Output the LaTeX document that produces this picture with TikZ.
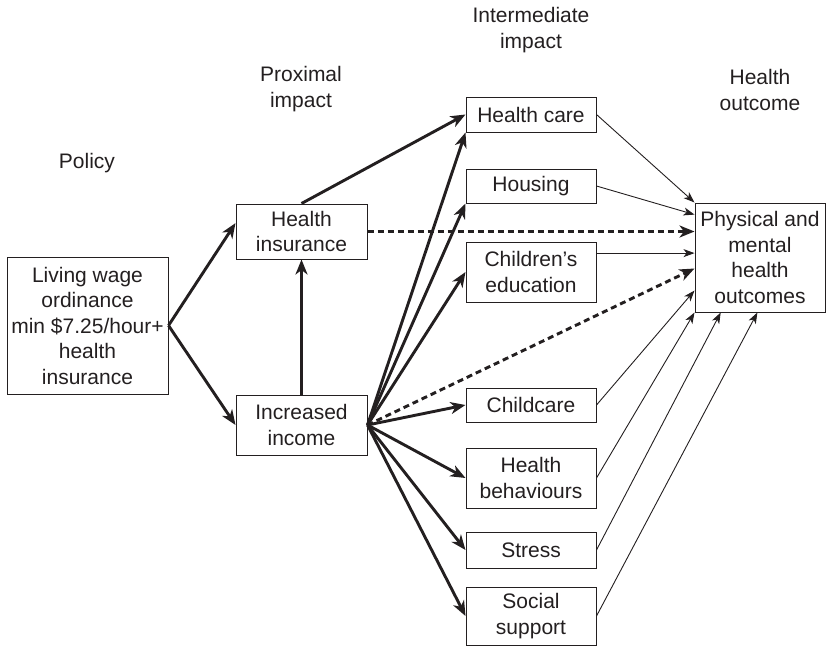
\documentclass[tikz,border=0pt]{standalone}
\usepackage{fontspec}
\setmainfont{Liberation Sans}
\usetikzlibrary{arrows.meta,calc}
\definecolor{ink}{RGB}{35,31,32}
\begin{document}
\begin{tikzpicture}[x=1pt,y=-1pt,
  every node/.style={text=ink,font=\fontsize{21}{25.5}\selectfont},
  box/.style={draw=ink,line width=1pt,inner sep=0pt,align=center,minimum width=130pt},
  lbl/.style={align=center,inner sep=0pt},
  thick arrow/.style={draw=ink,line width=2.9pt,-{Stealth[length=15pt,width=12pt,inset=4.5pt]}},
  dash arrow/.style={draw=ink,line width=2.9pt,dash pattern=on 6pt off 4pt,-{Stealth[length=15pt,width=12pt,inset=4.5pt]}},
  thin arrow/.style={draw=ink,line width=0.9pt,-{Stealth[length=11pt,width=8pt,inset=3pt]}}]
\useasboundingbox (0,0) rectangle (826,646);
% labels
\node[lbl] (policy) at (87,163) {Policy};
\node[lbl] (prox) at (301,89) {Proximal\\impact};
\node[lbl] (inter) at (531,30) {Intermediate\\impact};
\node[lbl] (hout) at (760,90) {Health\\outcome};
% boxes
\node[box,minimum width=161pt,minimum height=137pt] (lw) at (87.5,325.5) {Living wage\\ordinance\\min \$7.25/hour+\\health\\insurance};
\node[box,minimum width=131pt,minimum height=55pt] (hi) at (301.5,231.5) {Health\\insurance};
\node[box,minimum width=131pt,minimum height=60pt] (ii) at (301.5,425) {Increased\\income};
\node[box,minimum height=35pt] (hc) at (531,114.5) {Health care};
\node[box,minimum height=34pt] (ho) at (531,186) {Housing};
\node[box,minimum height=60pt] (ce) at (531,272) {Children’s\\education};
\node[box,minimum height=34pt] (cc) at (531,405) {Childcare};
\node[box,minimum height=60pt] (hb) at (531,478) {Health\\behaviours};
\node[box,minimum height=36pt] (st) at (531,550) {Stress};
\node[box,minimum height=58pt] (ss) at (531,616) {Social\\support};
\node[box,minimum height=109pt] (ph) at (760,257.5) {Physical and\\mental\\health\\outcomes};
% target points
\coordinate (pHi) at ($(hi.north west)!0.35!(hi.south west)$);
\coordinate (pHo) at ($(ph.north west)!0.11!(ph.south west)$);
\coordinate (pCe) at ($(ph.north west)!0.46!(ph.south west)$);
\coordinate (pIi) at ($(ph.north west)!0.60!(ph.south west)$);
\coordinate (pCc) at ($(ph.north west)!0.80!(ph.south west)$);
\coordinate (pSt) at ($(ph.south west)!0.20!(ph.south east)$);
\coordinate (pSs) at ($(ph.south west)!0.48!(ph.south east)$);
% thick arrows
\draw[thick arrow] (lw.east) -- (pHi);
\draw[thick arrow] (lw.east) -- (ii.west);
\draw[thick arrow] (ii.north) -- (hi.south);
\draw[thick arrow] (hi.north) -- (hc.west);
\draw[thick arrow] (ii.east) -- (hc.south west);
\draw[thick arrow] (ii.east) -- (ho.south west);
\draw[thick arrow] (ii.east) -- (ce.west);
\draw[thick arrow] (ii.east) -- (cc.west);
\draw[thick arrow] (ii.east) -- (hb.west);
\draw[thick arrow] (ii.east) -- (st.west);
\draw[thick arrow] (ii.east) -- (ss.west);
% dashed arrows
\draw[dash arrow] (hi.east) -- (hi.east -| ph.west);
\draw[dash arrow] (ii.east) -- (pIi);
% thin arrows
\draw[thin arrow] (hc.east) -- (ph.north west);
\draw[thin arrow] (ho.east) -- (pHo);
\draw[thin arrow] (pCe -| ce.east) -- (pCe);
\draw[thin arrow] (cc.east) -- (pCc);
\draw[thin arrow] (hb.east) -- (ph.south west);
\draw[thin arrow] (st.east) -- (pSt);
\draw[thin arrow] (ss.east) -- (pSs);
\end{tikzpicture}
\end{document}
